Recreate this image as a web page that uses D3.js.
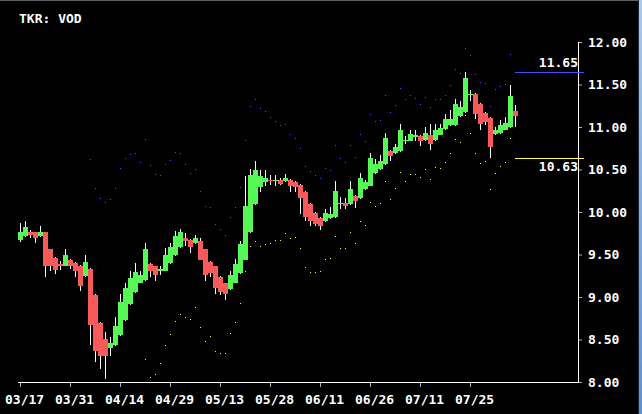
<!DOCTYPE html>
<html>
<head>
<meta charset="utf-8">
<script src="https://cdn.jsdelivr.net/npm/d3@7"></script>
<style>
html,body{margin:0;padding:0;background:#000;overflow:hidden;}
svg{display:block;}
text{font-family:"DejaVu Sans Mono",monospace;font-weight:bold;font-size:13px;fill:#fff;}
</style>
</head>
<body>
<svg id="chart" width="642" height="414"></svg>
<script>
const ticker = "TKR: VOD";
const dateLabels = ["03/17","03/31","04/14","04/29","05/13","05/28","06/11","06/26","07/11","07/25"];
const priceTicks = [8, 8.5, 9, 9.5, 10, 10.5, 11, 11.5, 12];
const highMark = 11.65;
const lowMark = 10.63;

const opens = [9.67,9.72,9.77,9.76,9.72,9.76,9.56,9.46,9.39,9.37,
 9.44,9.40,9.37,9.25,9.33,9.02,8.70,8.51,8.40,8.43,
 8.55,8.73,8.92,9.06,9.17,9.20,9.39,9.36,9.30,9.31,
 9.40,9.49,9.59,9.69,9.67,9.63,9.66,9.56,9.41,9.36,
 9.24,9.16,9.09,9.17,9.28,9.44,9.76,10.09,10.29,10.35,
 10.38,10.37,10.38,10.36,10.38,10.35,10.32,10.24,10.10,9.99,
 9.93,9.89,9.93,9.94,10.10,10.11,10.09,10.19,10.16,10.27,
 10.31,10.46,10.51,10.56,10.72,10.69,10.72,10.84,10.84,10.88,
 10.89,10.85,10.90,10.85,10.91,10.98,11.02,11.02,11.13,11.18,
 11.38,11.39,11.27,11.17,11.11,10.92,10.93,10.97,11.00,11.19];
const highs = [9.87,9.89,9.79,9.76,9.84,9.77,9.57,9.47,9.42,9.57,
 9.45,9.41,9.38,9.49,9.34,9.03,8.71,8.59,8.53,8.77,
 9.04,9.16,9.31,9.40,9.31,9.64,9.40,9.37,9.37,9.58,
 9.64,9.78,9.80,9.75,9.68,9.73,9.70,9.57,9.42,9.37,
 9.25,9.17,9.30,9.45,9.66,10.42,10.51,10.60,10.49,10.50,
 10.43,10.44,10.40,10.45,10.39,10.36,10.33,10.25,10.11,10.00,
 9.94,10.04,10.06,10.36,10.18,10.16,10.37,10.20,10.46,10.38,
 10.70,10.62,10.67,10.93,10.73,10.80,11.04,10.89,10.97,10.97,
 10.90,11.00,11.03,11.03,11.04,11.15,11.20,11.33,11.31,11.65,
 11.44,11.40,11.28,11.18,11.12,11.00,11.08,11.12,11.50,11.26];
const lows = [9.65,9.71,9.69,9.64,9.71,9.23,9.30,9.27,9.32,9.36,
 9.33,9.23,9.07,9.24,8.43,8.23,8.15,8.04,8.31,8.42,
 8.54,8.72,8.91,9.05,9.16,9.19,9.24,9.19,9.26,9.30,
 9.39,9.48,9.58,9.60,9.52,9.62,9.43,9.19,9.24,9.04,
 9.02,8.97,9.08,9.16,9.27,9.43,9.75,10.08,10.23,10.30,
 10.32,10.31,10.32,10.35,10.24,10.24,9.98,9.89,9.84,9.84,
 9.79,9.88,9.92,9.93,10.03,10.03,10.08,10.05,10.15,10.26,
 10.30,10.45,10.50,10.55,10.60,10.68,10.71,10.80,10.83,10.83,
 10.78,10.84,10.73,10.84,10.90,10.97,11.01,11.01,11.12,11.17,
 11.30,11.10,10.96,11.02,10.63,10.91,10.92,10.96,10.99,11.00];
const closes = [9.77,9.82,9.73,9.70,9.77,9.36,9.36,9.32,9.36,9.50,
 9.36,9.31,9.13,9.41,8.67,8.37,8.30,8.31,8.46,8.66,
 8.94,9.11,9.22,9.29,9.26,9.57,9.30,9.26,9.33,9.50,
 9.59,9.72,9.76,9.66,9.59,9.70,9.44,9.26,9.28,9.11,
 9.06,9.03,9.26,9.39,9.62,10.07,10.43,10.50,10.42,10.40,
 10.37,10.38,10.33,10.40,10.30,10.29,10.16,9.94,9.89,9.86,
 9.84,9.99,9.98,10.25,10.11,10.07,10.27,10.13,10.40,10.35,
 10.64,10.57,10.60,10.87,10.66,10.77,10.97,10.85,10.92,10.90,
 10.84,10.93,10.80,10.96,10.99,11.10,11.10,11.27,11.23,11.58,
 11.39,11.15,11.04,11.06,10.76,10.96,11.02,11.05,11.37,11.13];
const upperBand = [null,null,null,null,null,null,null,null,null,null,
 null,null,null,null,10.62,10.28,10.17,10.12,10.15,10.28,
 10.52,10.64,10.68,10.70,10.59,10.86,10.55,10.45,10.44,10.57,
 10.61,10.71,10.70,10.57,10.46,10.51,10.25,10.07,10.06,9.86,
 9.80,9.73,9.94,10.06,10.29,10.85,11.25,11.33,11.22,11.19,
 11.12,11.07,11.02,11.04,10.92,10.87,10.75,10.54,10.48,10.44,
 10.40,10.52,10.49,10.79,10.64,10.59,10.79,10.65,10.92,10.84,
 11.15,11.07,11.08,11.38,11.18,11.26,11.46,11.33,11.38,11.34,
 11.27,11.35,11.24,11.33,11.33,11.38,11.49,11.68,11.64,11.93,
 11.85,11.62,11.53,11.52,11.25,11.45,11.48,11.51,11.86,null];
const lowerBand = [null,null,null,null,null,null,null,null,null,null,
 null,null,null,null,null,null,null,null,null,null,
 null,null,null,null,null,8.27,8.06,8.09,8.22,8.44,
 8.56,8.72,8.80,8.76,8.74,8.88,8.65,8.48,8.54,8.36,
 8.34,8.34,8.58,8.71,8.93,9.31,9.60,9.66,9.60,9.62,
 9.64,9.67,9.67,9.75,9.69,9.71,9.58,9.35,9.29,9.29,
 9.31,9.45,9.46,9.72,9.58,9.58,9.77,9.64,9.89,9.85,
 10.12,10.07,10.11,10.37,10.15,10.28,10.47,10.37,10.45,10.45,
 10.41,10.51,10.39,10.53,10.52,10.59,10.69,10.86,10.82,11.14,
 10.93,10.69,10.58,10.60,10.27,10.46,10.54,10.59,10.87,null];

const idx = d3.range(opens.length);
const svg = d3.select("#chart");

svg.append("rect").attr("x",0).attr("y",0).attr("width",642).attr("height",414).attr("fill","#000");

const x = d3.scaleLinear().domain([0, 99]).range([20, 515]);
const y = d3.scaleLinear().domain([8, 12]).range([382, 42]);

const plot = svg.append("g").attr("shape-rendering","crispEdges");

// band dots
plot.append("g").selectAll("rect").data(idx.filter(i => upperBand[i] != null)).join("rect")
  .attr("x", i => x(i)).attr("y", i => Math.round(y(upperBand[i])))
  .attr("width", 1).attr("height", 1).attr("fill", "#4a4aff");
plot.append("g").selectAll("rect").data(idx.filter(i => lowerBand[i] != null && lowerBand[i] >= 8)).join("rect")
  .attr("x", i => x(i)).attr("y", i => Math.round(y(lowerBand[i])))
  .attr("width", 1).attr("height", 1).attr("fill", "#ffff40");

// wicks
plot.append("g").selectAll("rect").data(idx).join("rect")
  .attr("x", i => x(i))
  .attr("y", i => Math.round(y(highs[i])))
  .attr("width", 1)
  .attr("height", i => Math.max(1, Math.round(y(lows[i])) - Math.round(y(highs[i]))))
  .attr("fill", "#ffffff");

// bodies
plot.append("g").selectAll("rect").data(idx).join("rect")
  .attr("x", i => x(i) - 2)
  .attr("y", i => Math.round(y(Math.max(opens[i], closes[i]))))
  .attr("width", 5)
  .attr("height", i => Math.max(1, Math.round(y(Math.min(opens[i], closes[i]))) - Math.round(y(Math.max(opens[i], closes[i])))))
  .attr("fill", i => closes[i] >= opens[i] ? "#55f855" : "#f85a5a");

// axes
const tickIdx = dateLabels.map((d, k) => k * 10);
const xAxis = svg.append("g").attr("transform", "translate(0,382)")
  .call(d3.axisBottom(x).tickValues(tickIdx).tickFormat((d, k) => dateLabels[k]).tickSize(5).tickSizeOuter(0));
xAxis.select(".domain").remove();
xAxis.selectAll("line").attr("stroke", "#b0b0b0");
xAxis.selectAll("text").attr("text-anchor", "start").attr("x", -15.5).attr("y", 22).attr("dy", null)
  .attr("fill", "#fff").style("font-family", "'DejaVu Sans Mono', monospace").style("font-size", "13px").style("font-weight", "bold");

const yAxis = svg.append("g").attr("transform", "translate(578,0)")
  .call(d3.axisRight(y).tickValues(priceTicks).tickFormat(d3.format(".2f")).tickSize(4).tickSizeOuter(0));
yAxis.select(".domain").remove();
yAxis.selectAll("line").attr("stroke", "#b0b0b0");
yAxis.selectAll("text").attr("x", 10).attr("dy", "0.34em")
  .attr("fill", "#fff").style("font-family", "'DejaVu Sans Mono', monospace").style("font-size", "13px").style("font-weight", "bold");

svg.append("line").attr("x1", 18).attr("x2", 579).attr("y1", 382.5).attr("y2", 382.5).attr("stroke", "#fff");
svg.append("line").attr("x1", 578.5).attr("x2", 578.5).attr("y1", 42).attr("y2", 383).attr("stroke", "#fff");

// high / low marks
const yh = Math.round(y(highMark)) + 0.5;
const yl = Math.round(y(lowMark)) + 0.5;
svg.append("line").attr("x1", 515).attr("x2", 584).attr("y1", yh).attr("y2", yh).attr("stroke", "#4a4aff");
svg.append("line").attr("x1", 515).attr("x2", 584).attr("y1", yl).attr("y2", yl).attr("stroke", "#ffff50");
svg.append("text").attr("x", 578).attr("y", yh - 5.5).attr("text-anchor", "end").text(d3.format(".2f")(highMark));
svg.append("text").attr("x", 578).attr("y", yl + 12.5).attr("text-anchor", "end").text(d3.format(".2f")(lowMark));

// title
svg.append("text").attr("x", 19).attr("y", 23).text(ticker);

// window edge
const defs = svg.append("defs");
const grad = defs.append("linearGradient").attr("id", "edge").attr("x1", 0).attr("x2", 0).attr("y1", 0).attr("y2", 1);
grad.append("stop").attr("offset", "0%").attr("stop-color", "#a9c9ef");
grad.append("stop").attr("offset", "100%").attr("stop-color", "#5d8fd6");
svg.append("rect").attr("x", 638).attr("y", 0).attr("width", 1).attr("height", 414).attr("fill", "#1a2a3a");
svg.append("rect").attr("x", 639).attr("y", 0).attr("width", 3).attr("height", 414).attr("fill", "url(#edge)");
svg.append("rect").attr("x", 0).attr("y", 0).attr("width", 638).attr("height", 1).attr("fill", "#606060");
</script>
</body>
</html>
